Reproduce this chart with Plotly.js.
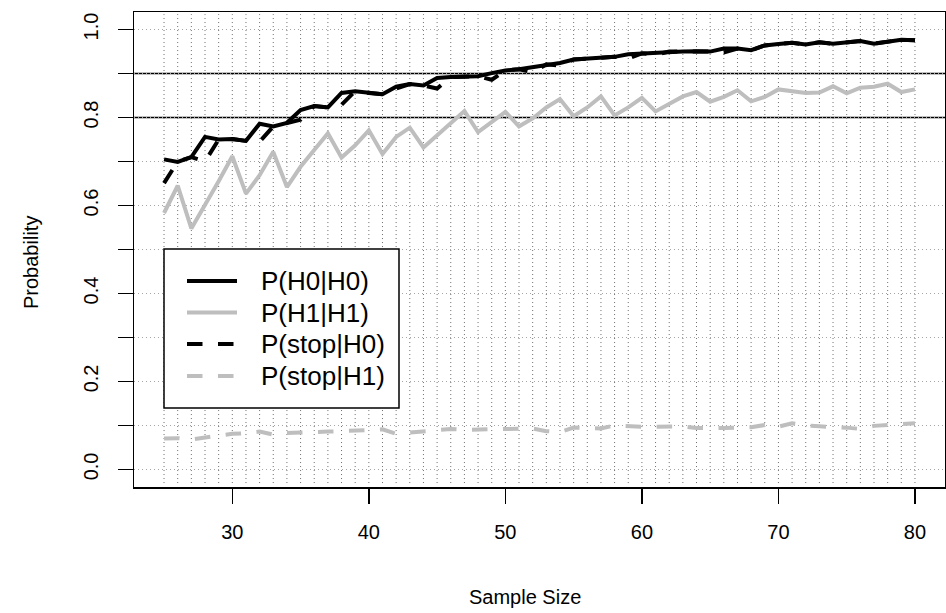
<!DOCTYPE html>
<html>
<head>
<meta charset="utf-8">
<script src="https://cdn.plot.ly/plotly-3.0.1.min.js"></script>
<style>html,body{margin:0;padding:0;background:#fff;}#chart{width:946px;height:613px;}</style>
</head>
<body>
<div id="chart"></div>
<script>
const sampleSize = [25,26,27,28,29,30,31,32,33,34,35,36,37,38,39,40,41,42,43,44,45,46,47,48,49,50,51,52,53,54,55,56,57,58,59,60,61,62,63,64,65,66,67,68,69,70,71,72,73,74,75,76,77,78,79,80];

const pH0H0 = [0.705,0.699,0.710,0.756,0.750,0.751,0.747,0.786,0.780,0.788,0.817,0.826,0.823,0.856,0.860,0.856,0.853,0.870,0.876,0.873,0.890,0.892,0.894,0.894,0.901,0.907,0.910,0.915,0.921,0.924,0.932,0.934,0.935,0.938,0.944,0.946,0.947,0.950,0.950,0.951,0.950,0.957,0.957,0.953,0.964,0.967,0.970,0.966,0.971,0.968,0.972,0.974,0.968,0.973,0.977,0.976];

const pH1H1 = [0.583,0.645,0.548,0.600,0.655,0.712,0.627,0.669,0.722,0.642,0.688,0.726,0.764,0.709,0.737,0.771,0.717,0.756,0.777,0.732,0.760,0.788,0.815,0.767,0.790,0.813,0.780,0.798,0.823,0.842,0.803,0.823,0.848,0.805,0.823,0.845,0.814,0.832,0.848,0.858,0.836,0.847,0.862,0.837,0.847,0.864,0.860,0.856,0.857,0.871,0.855,0.868,0.870,0.877,0.858,0.864];

const pStopH0 = [0.651,0.700,0.710,0.700,0.750,0.751,0.747,0.745,0.780,0.788,0.795,0.826,0.823,0.829,0.860,0.856,0.853,0.866,0.876,0.873,0.866,0.892,0.894,0.894,0.886,0.907,0.910,0.903,0.921,0.918,0.932,0.934,0.935,0.938,0.934,0.946,0.943,0.950,0.950,0.951,0.950,0.948,0.957,0.953,0.964,0.967,0.970,0.966,0.971,0.968,0.972,0.974,0.968,0.973,0.977,0.976];

const pStopH1 = [0.070,0.071,0.068,0.072,0.078,0.081,0.082,0.086,0.079,0.083,0.084,0.086,0.086,0.087,0.088,0.089,0.091,0.081,0.084,0.086,0.089,0.092,0.090,0.091,0.091,0.092,0.092,0.093,0.087,0.085,0.095,0.095,0.093,0.100,0.098,0.097,0.097,0.098,0.098,0.094,0.093,0.094,0.095,0.096,0.101,0.097,0.105,0.100,0.098,0.097,0.095,0.092,0.099,0.101,0.104,0.105];

const seriesNames = ["P(H0|H0)", "P(H1|H1)", "P(stop|H0)", "P(stop|H1)"];
const xTickVals = [30,40,50,60,70,80];
const refLines = [0.8, 0.9];
const vGrid = sampleSize;

const BLACK = "#000000";
const GRAY = "#BEBEBE";
const DASH = "15.5px,15.5px";
const seriesColors = [BLACK, GRAY, BLACK, GRAY];
const seriesDash = ["solid", "solid", DASH, DASH];
const seriesValues = [pH0H0, pH1H1, pStopH0, pStopH1];

const traces = seriesValues.map((vals, i) => ({
  x: sampleSize, y: vals, name: seriesNames[i], mode: "lines", showlegend: false,
  line: {color: seriesColors[i], width: 4, dash: seriesDash[i]}
}));

// plot area in pixels (margins below)
const ML = 134, MR = 1, MT = 12, MB = 126, W = 946, H = 613;
const PW = W - ML - MR, PH = H - MT - MB;
const px = X => (X - ML) / PW;
const py = Y => (H - MB - Y) / PH;

const shapes = [];
vGrid.forEach(v => shapes.push({type: "line", layer: "below", xref: "x", yref: "y", x0: v, x1: v, y0: -0.031, y1: 1.035,
  line: {color: "rgb(110,110,110)", width: 1, dash: "1px,3px"}}));
refLines.forEach(h => shapes.push({type: "line", layer: "below", xref: "paper", yref: "y", x0: 0, x1: 1, y0: h, y1: h,
  line: {color: BLACK, width: 1.5}}));

// legend box (drawn like R's legend())
shapes.push({type: "rect", layer: "above", xref: "paper", yref: "paper",
  x0: px(164), x1: px(399), y0: py(408), y1: py(249),
  fillcolor: "#ffffff", line: {color: BLACK, width: 1.5}});
const legendRows = [281, 312.5, 344, 376];
const annotations = [];
legendRows.forEach((Y, i) => {
  shapes.push({type: "line", layer: "above", xref: "paper", yref: "paper",
    x0: px(187), x1: px(237), y0: py(Y), y1: py(Y),
    line: {color: seriesColors[i], width: 4, dash: seriesDash[i]}});
  annotations.push({xref: "paper", yref: "paper", x: px(259), y: py(Y), xanchor: "left", yanchor: "middle",
    text: seriesNames[i], showarrow: false,
    font: {family: "Liberation Sans, Arial, sans-serif", size: 26, color: "#000"}});
});

const axisFont = {family: "Liberation Sans, Arial, sans-serif", size: 20, color: "#000"};

// axis titles (R places them slightly off-centre here)
annotations.push({xref: "paper", yref: "paper", x: px(525), y: py(597), xanchor: "center", yanchor: "middle",
  text: "Sample Size", showarrow: false, font: axisFont});
annotations.push({xref: "paper", yref: "paper", x: px(31), y: py(263), xanchor: "center", yanchor: "middle",
  text: "Probability", textangle: -90, showarrow: false, font: axisFont});

const layout = {
  width: W, height: H,
  margin: {l: ML, r: MR, t: MT, b: MB, pad: 0},
  paper_bgcolor: "#fff", plot_bgcolor: "#fff",
  font: axisFont,
  showlegend: false,
  xaxis: {
    range: [22.8, 82.2], tickvals: xTickVals, ticktext: xTickVals.map(String),
    showline: true, mirror: true, linecolor: BLACK, linewidth: 1.5,
    ticks: "outside", ticklen: 15, tickwidth: 1.5, tickcolor: BLACK,
    ticklabelstandoff: 11,
    showgrid: false, zeroline: false, tickfont: axisFont
  },
  yaxis: {
    range: [-0.04, 1.04], tick0: 0, dtick: 0.2, tickformat: ".1f", tickangle: -90,
    showline: true, mirror: true, linecolor: BLACK, linewidth: 1.5,
    ticks: "outside", ticklen: 15, tickwidth: 1.5, tickcolor: BLACK,
    ticklabelstandoff: 12,
    showgrid: true, gridcolor: "rgb(165,165,165)", gridwidth: 1, griddash: "1px,3px",
    zeroline: false, tickfont: axisFont,
    minor: {dtick: 0.1, tick0: 0, ticks: "outside", ticklen: 15, tickwidth: 1.5, tickcolor: BLACK,
      showgrid: true, gridcolor: "rgb(165,165,165)", gridwidth: 1, griddash: "1px,3px"}
  },
  shapes: shapes,
  annotations: annotations
};

Plotly.newPlot("chart", traces, layout, {displayModeBar: false, staticPlot: true});
</script>
</body>
</html>
